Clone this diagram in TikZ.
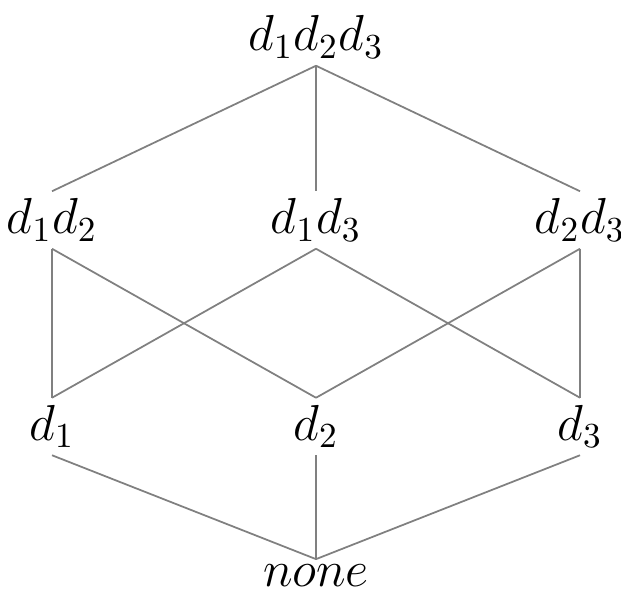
\documentclass[tikz,border=0pt]{standalone}
\usepackage{amsmath}
\usetikzlibrary{positioning}

\begin{document}
\begin{tikzpicture}[
    node distance=2cm,
    on grid,
    % Stile per gli elementi del reticolo
    elem/.style={inner sep=1.9pt, font=\Large},
    link/.style={draw=gray, line width=0.5pt}
]
    \useasboundingbox (0,0) rectangle (6.21,-5.95);

    % Definizione dei Nodi
    \node[elem] (d123) at (3.16,-0.37) {$d_1d_2d_3$};
    \node[elem] (d13) [below=1.83cm of d123] {$d_1d_3$};
    \node[elem] (d12) [left=2.64cm of d13] {$d_1d_2$};
    \node[elem] (d23) [right=2.64cm of d13] {$d_2d_3$};
    \node[elem] (d2) [below=2.065cm of d13] {$d_2$};
    \node[elem] (d1) [left=2.64cm of d2] {$d_1$};
    \node[elem] (d3) [right=2.64cm of d2] {$d_3$};
    \node[elem, inner sep=1.5pt, font=\fontsize{15.5}{18}\selectfont] (none)
        [below=1.495cm of d2] {$none$};

    % Archi
    \path[link]
        % dall'alto
        (d123.south) edge (d12.north)
        (d123.south) edge (d13.north)
        (d123.south) edge (d23.north)
        % livello di mezzo
        (d12.south) edge (d1.north)
        (d12.south) edge (d2.north)
        (d13.south) edge (d1.north)
        (d13.south) edge (d3.north)
        (d23.south) edge (d2.north)
        (d23.south) edge (d3.north)
        % verso il basso
        (d1.south) edge (none.north)
        (d2.south) edge (none.north)
        (d3.south) edge (none.north)
        ;

\end{tikzpicture}
\end{document}
